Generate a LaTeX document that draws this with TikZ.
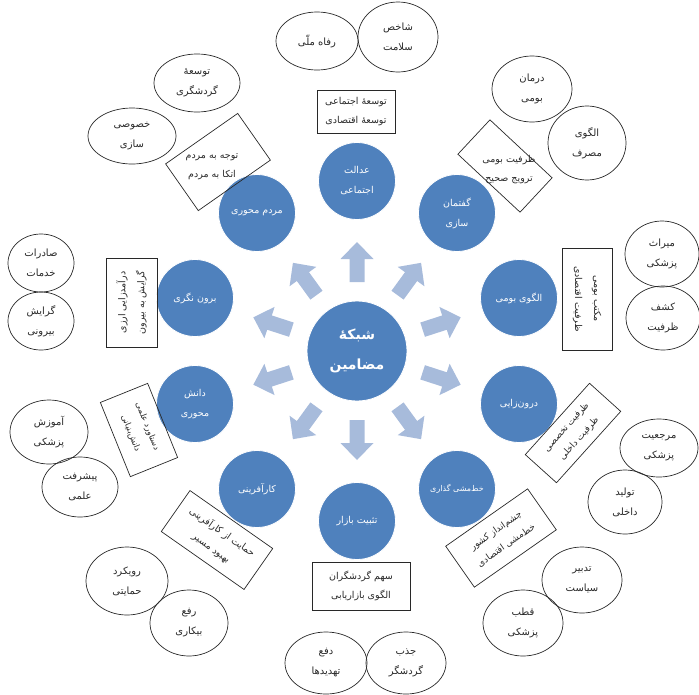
\documentclass[tikz,border=0pt]{standalone}
\usepackage{fontspec}
\usetikzlibrary{shapes.geometric}
\newfontfamily\fafont[Script=Arabic]{DejaVu Sans}
\TeXXeTstate=1
\newcommand\fa[1]{\beginR #1\endR}
\definecolor{cblue}{RGB}{79,129,189}
\definecolor{carrow}{RGB}{167,187,219}
\definecolor{cline}{RGB}{40,40,40}
\begin{document}
\begin{tikzpicture}[x=1pt,y=-1pt,
  bcirc/.style={circle, fill=cblue, draw=white, line width=0.8pt, minimum size=77pt, inner sep=0pt, text=white, align=center, font=\fafont\fontsize{9.5}{20}\selectfont},
  ell/.style={ellipse, draw=cline, line width=0.7pt, inner sep=0pt, align=center, text=cline, font=\fafont\fontsize{10}{20}\selectfont},
  tbox/.style={rectangle, draw=cline, line width=0.7pt, inner sep=0pt, align=center, text=cline, font=\fafont\fontsize{9.5}{19}\selectfont},
  txt/.style={inner sep=0pt, align=center, text=cline, font=\fafont\fontsize{9.5}{19}\selectfont}
]
\useasboundingbox (0,0) rectangle (699,694);

% block arrows
\foreach \a in {90,54,18,-18,-54,-90,-126,-162,162,126}{
  \fill[carrow, shift={(357,351)}, rotate=\a] (69,-7.5) -- (92,-7.5) -- (92,-16.5) -- (109,0) -- (92,16.5) -- (92,7.5) -- (69,7.5) -- cycle;
}

% centre
\node[bcirc, minimum size=100pt, font=\fafont\bfseries\fontsize{14}{30}\selectfont] (ctr) at (357,351) {\fa{شبکه^^^^0654}\\\fa{مضامین}};

% theme circles
\node[bcirc] (c1) at (357,181) {\fa{عدالت}\\\fa{اجتماعی}};
\node[bcirc] (c2) at (457,213) {\fa{گفتمان}\\\fa{سازی}};
\node[bcirc] (c3) at (519,298) {\fa{الگوی بومی}};
\node[bcirc] (c4) at (519,404) {\fa{درون^^^^200cزایی}};
\node[bcirc, font=\fafont\fontsize{8}{16}\selectfont] (c5) at (457,489) {\fa{خط^^^^200cمشی گذاری}};
\node[bcirc] (c6) at (357,521) {\fa{تثبیت بازار}};
\node[bcirc] (c7) at (257,489) {\fa{کارآفرینی}};
\node[bcirc] (c8) at (195,404) {\fa{دانش}\\\fa{محوری}};
\node[bcirc] (c9) at (195,298) {\fa{برون نگری}};
\node[bcirc] (c10) at (257,213) {\fa{مردم محوری}};

% text boxes
\node[tbox, minimum width=78pt, minimum height=43pt] (b1) at (356,112) {\fa{توسعه^^^^0654 اجتماعی}\\\fa{توسعه^^^^0654 اقتصادی}};
\node[tbox, rotate=-43, minimum width=85pt, minimum height=47pt] (b2) at (505,166) {};
\node[txt] (t2) at (509,170) {\fa{ظرفیت بومی}\\\fa{ترویج صحیح}};
\node[tbox, rotate=35, minimum width=88pt, minimum height=57pt] (b3) at (218,162) {};
\node[txt] (t3) at (212,167) {\fa{توجه به مردم}\\\fa{اتکا به مردم}};
\node[tbox, rotate=90, minimum width=89pt, minimum height=51pt] (b4) at (131.5,302.5) {\fa{درآمدزایی ارزی}\\\fa{گرایش به بیرون}};
\node[tbox, rotate=-90, minimum width=102pt, minimum height=50pt] (b5) at (587,299) {\fa{مکتب بومی}\\\fa{ظرفیت اقتصادی}};
\node[tbox, rotate=-68, minimum width=80pt, minimum height=51pt, font=\fafont\fontsize{8.5}{18}\selectfont] (b6) at (139,430) {\fa{دستاورد علمی}\\\fa{دانش^^^^200cبنیانی}};
\node[tbox, rotate=48, minimum width=96pt, minimum height=42pt, font=\fafont\fontsize{9}{17}\selectfont] (b7) at (573,433) {\fa{ظرفیت تخصصی}\\\fa{ظرفیت داخلی}};
\node[tbox, rotate=-35, minimum width=101pt, minimum height=50pt] (b8) at (217,540) {\fa{حمایت از کارآفرینی}\\\fa{بهبود مسیر}};
\node[tbox, minimum width=98pt, minimum height=48pt] (b9) at (361,586) {\fa{سهم گردشگران}\\\fa{الگوی بازاریابی}};
\node[tbox, rotate=35, minimum width=100pt, minimum height=50pt, font=\fafont\fontsize{9}{18}\selectfont] (b10) at (501,538) {\fa{چشم^^^^200cانداز کشور}\\\fa{خط^^^^200cمشی اقتصادی}};

% ellipses
\node[ell, minimum width=82pt, minimum height=58pt] (e1) at (317,41) {\fa{رفاه ملّی}};
\node[ell, minimum width=80pt, minimum height=70pt] (e2) at (398,37) {\fa{شاخص}\\\fa{سلامت}};
\node[ell, minimum width=80pt, minimum height=66pt] (e3) at (532,89) {\fa{درمان}\\\fa{بومی}};
\node[ell, minimum width=78pt, minimum height=74pt] (e4) at (587,143) {\fa{الگوی}\\\fa{مصرف}};
\node[ell, minimum width=86pt, minimum height=58pt] (e5) at (197,83) {\fa{توسعه^^^^0654}\\\fa{گردشگری}};
\node[ell, minimum width=88pt, minimum height=56pt] (e6) at (132,136) {\fa{خصوصی}\\\fa{سازی}};
\node[ell, minimum width=66pt, minimum height=58pt] (e7) at (41,263) {\fa{صادرات}\\\fa{خدمات}};
\node[ell, minimum width=66pt, minimum height=58pt] (e8) at (41,321) {\fa{گرایش}\\\fa{بیرونی}};
\node[ell, minimum width=74pt, minimum height=66pt] (e9) at (662,254) {\fa{میراث}\\\fa{پزشکی}};
\node[ell, minimum width=74pt, minimum height=64pt] (e10) at (663,318) {\fa{کشف}\\\fa{ظرفیت}};
\node[ell, minimum width=78pt, minimum height=64pt] (e11) at (49,432) {\fa{آموزش}\\\fa{پزشکی}};
\node[ell, minimum width=76pt, minimum height=60pt] (e12) at (80,487) {\fa{پیشرفت}\\\fa{علمی}};
\node[ell, minimum width=78pt, minimum height=58pt] (e13) at (659,448) {\fa{مرجعیت}\\\fa{پزشکی}};
\node[ell, minimum width=74pt, minimum height=64pt] (e14) at (625,502) {\fa{تولید}\\\fa{داخلی}};
\node[ell, minimum width=82pt, minimum height=68pt] (e15) at (127,581) {\fa{رویکرد}\\\fa{حمایتی}};
\node[ell, minimum width=78pt, minimum height=66pt] (e16) at (189,623) {\fa{رفع}\\\fa{بیکاری}};
\node[ell, minimum width=82pt, minimum height=62pt] (e17) at (326,663) {\fa{دفع}\\\fa{تهدیدها}};
\node[ell, minimum width=80pt, minimum height=62pt] (e18) at (406,663) {\fa{جذب}\\\fa{گردشگر}};
\node[ell, minimum width=80pt, minimum height=66pt] (e19) at (582,580) {\fa{تدبیر}\\\fa{سیاست}};
\node[ell, minimum width=80pt, minimum height=66pt] (e20) at (523,623) {\fa{قطب}\\\fa{پزشکی}};
\end{tikzpicture}
\end{document}
